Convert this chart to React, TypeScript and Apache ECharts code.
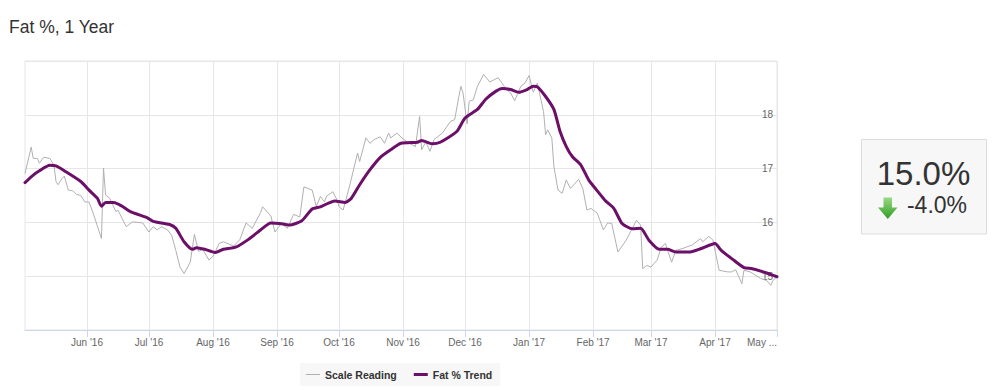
import React, { useEffect, useRef } from "react";
import * as echarts from "echarts";

// ---- data ----
const MONTHS = ["Jan", "Feb", "Mar", "Apr", "May", "Jun", "Jul", "Aug", "Sep", "Oct", "Nov", "Dec"];
const START_DATE = "2016-05-02";
const DAY_COUNT = 365;

const readingDays = [0, 3, 4, 6, 7, 9, 12, 14, 15, 16, 18, 19, 21, 23, 25, 27, 29, 31, 33, 37, 38, 39, 41, 44, 45, 49, 52, 57, 60, 62, 64, 66, 69, 71, 73, 75, 77, 80, 82, 84, 86, 89, 91, 94, 96, 101, 104, 107, 110, 114, 115, 119, 121, 124, 127, 130, 133, 135, 139, 141, 143, 145, 146, 149, 151, 152, 154, 157, 161, 162, 165, 167, 169, 172, 174, 176, 177, 180, 183, 186, 189, 191, 192, 194, 196, 198, 202, 206, 208, 210, 211, 212, 214, 215, 217, 219, 222, 225, 227, 229, 232, 233, 235, 237, 240, 242, 244, 246, 248, 249, 251, 252, 253, 255, 256, 258, 260, 262, 264, 268, 270, 272, 274, 277, 280, 282, 284, 287, 291, 296, 298, 299, 301, 303, 306, 308, 310, 311, 313, 315, 318, 320, 323, 327, 328, 331, 333, 336, 340, 342, 344, 347, 348, 351, 356, 359, 361, 362, 364];
const readingValues = [16.91, 17.4, 17.19, 17.19, 17.1, 17.21, 17.19, 17.07, 16.76, 16.7, 16.82, 16.86, 16.6, 16.59, 16.52, 16.5, 16.38, 16.38, 16.17, 15.7, 17.01, 16.51, 16.45, 16.2, 16.23, 15.92, 16.01, 15.99, 15.82, 15.92, 15.86, 15.92, 15.86, 15.76, 15.48, 15.17, 15.05, 15.26, 15.78, 15.46, 15.5, 15.3, 15.37, 15.61, 15.64, 15.56, 15.68, 15.99, 15.89, 16.18, 16.29, 16.12, 15.82, 15.98, 15.89, 16.15, 16.1, 16.66, 16.6, 16.3, 16.48, 16.38, 16.49, 16.57, 16.42, 16.29, 16.23, 16.66, 17.29, 17.13, 17.57, 17.47, 17.54, 17.59, 17.47, 17.66, 17.57, 17.66, 17.55, 17.47, 17.41, 17.97, 17.35, 17.5, 17.32, 17.54, 17.66, 17.88, 17.91, 18.34, 18.53, 18.41, 17.83, 18.25, 18.28, 18.53, 18.75, 18.61, 18.65, 18.69, 18.53, 18.47, 18.41, 18.26, 18.53, 18.59, 18.73, 18.42, 18.59, 18.41, 18.06, 17.63, 17.72, 17.57, 17.04, 16.6, 16.54, 16.79, 16.63, 16.8, 16.63, 16.23, 16.26, 16.17, 15.86, 15.99, 15.98, 15.45, 15.67, 16.04, 15.95, 15.14, 15.2, 15.17, 15.3, 15.54, 15.61, 15.48, 15.26, 15.48, 15.51, 15.54, 15.58, 15.7, 15.64, 15.74, 15.67, 15.11, 15.08, 15.08, 15.12, 14.86, 15.11, 15.08, 14.96, 14.92, 14.83, 14.92, 14.99];

const trendDays = [0, 4, 7, 12, 15, 19, 27, 31, 35, 37, 39, 43, 47, 51, 59, 62, 70, 73, 77, 81, 83, 87, 92, 96, 102, 108, 114, 119, 125, 128, 134, 139, 143, 150, 155, 158, 162, 167, 172, 177, 182, 190, 192, 197, 201, 209, 213, 219, 223, 228, 231, 235, 239, 243, 246, 248, 252, 256, 259, 262, 265, 269, 273, 278, 281, 285, 289, 294, 298, 302, 307, 311, 315, 322, 327, 334, 337, 343, 348, 352, 359, 364];
const trendValues = [16.74, 16.88, 16.96, 17.06, 17.05, 16.96, 16.76, 16.6, 16.45, 16.3, 16.37, 16.37, 16.3, 16.2, 16.09, 16.02, 15.96, 15.89, 15.64, 15.5, 15.53, 15.5, 15.44, 15.5, 15.54, 15.68, 15.86, 15.99, 15.97, 15.95, 16.03, 16.25, 16.29, 16.4, 16.37, 16.45, 16.7, 16.98, 17.21, 17.35, 17.47, 17.49, 17.52, 17.46, 17.49, 17.69, 17.94, 18.1, 18.29, 18.44, 18.49, 18.47, 18.42, 18.47, 18.53, 18.52, 18.34, 18.1, 17.69, 17.41, 17.22, 17.07, 16.78, 16.54, 16.4, 16.26, 15.98, 15.88, 15.89, 15.67, 15.5, 15.5, 15.45, 15.45, 15.51, 15.61, 15.48, 15.3, 15.16, 15.14, 15.06, 14.99];

const yTickLabels = [15, 16, 17, 18];
const currentValue = "15.0%";
const changeValue = "-4.0%";
const titleText = "Fat %, 1 Year";
const seriesNames = ["Scale Reading", "Fat % Trend"];

const FONT = "'Liberation Sans', Arial, Helvetica, sans-serif";

function pad(n: number) {
  return n < 10 ? "0" + n : "" + n;
}

const startMs = Date.parse(START_DATE + "T00:00:00Z");
const categories: string[] = Array.from({ length: DAY_COUNT }, (_, i) => {
  const d = new Date(startMs + i * 86400000);
  return `${d.getUTCFullYear()}-${pad(d.getUTCMonth() + 1)}-${pad(d.getUTCDate())}`;
});

const isMonthStart = (_idx: number, value: string) => typeof value === "string" && value.endsWith("-01");

export default function App() {
  const ref = useRef<HTMLDivElement>(null);

  useEffect(() => {
    if (!ref.current) return;
    const chart = echarts.init(ref.current, null, { renderer: "svg" });
    const lastIdx = categories.length - 1;

    chart.setOption({
      animation: false,
      backgroundColor: "#ffffff",
      textStyle: { fontFamily: FONT },
      grid: {
        left: 25,
        right: 222,
        top: 61,
        bottom: 60,
        show: true,
        borderColor: "#e6e6e6",
        borderWidth: 1,
        backgroundColor: "transparent",
      },
      legend: {
        left: 300,
        top: 363,
        orient: "horizontal",
        backgroundColor: "#f7f7f7",
        padding: [6, 8, 6, 6],
        itemGap: 17,
        itemWidth: 14,
        itemHeight: 3,
        textStyle: { color: "#333333", fontWeight: "bold", fontSize: 10.5, fontFamily: FONT },
        data: [
          { name: seriesNames[0], icon: "path://M0,0H14V1H0Z" },
          { name: seriesNames[1], icon: "rect" },
        ],
      },
      xAxis: {
        type: "category",
        data: categories,
        boundaryGap: false,
        axisLine: { show: true, lineStyle: { color: "#ccd6eb", width: 1 } },
        axisTick: {
          show: true,
          interval: isMonthStart,
          length: 7,
          lineStyle: { color: "#ccd6eb" },
        },
        splitLine: {
          show: true,
          interval: isMonthStart,
          lineStyle: { color: "#e6e6e6", width: 1 },
        },
        axisLabel: {
          interval: isMonthStart,
          showMaxLabel: true,
          alignMaxLabel: "right",
          margin: 7,
          color: "#666666",
          fontSize: 10,
          fontFamily: FONT,
          formatter: (value: string, index: number) => {
            const parts = value.split("-");
            const mon = MONTHS[parseInt(parts[1], 10) - 1];
            if (index === lastIdx) return `${mon} ...`;
            return `${mon} '${parts[0].slice(2)}`;
          },
        },
      },
      yAxis: {
        type: "value",
        position: "right",
        min: 14,
        max: 19,
        interval: 1,
        axisLine: { show: false },
        axisTick: { show: false },
        splitLine: { show: true, lineStyle: { color: "#e6e6e6", width: 1 } },
        axisLabel: {
          inside: true,
          margin: 4,
          color: "#666666",
          fontSize: 10,
          fontFamily: FONT,
          formatter: (v: number) => (yTickLabels.includes(v) ? String(v) : ""),
        },
      },
      series: [
        {
          name: seriesNames[0],
          type: "line",
          data: readingDays.map((d, i) => [d, readingValues[i]]),
          showSymbol: false,
          symbol: "none",
          color: "#b0b0b0",
          lineStyle: { color: "#b0b0b0", width: 1 },
          z: 2,
        },
        {
          name: seriesNames[1],
          type: "line",
          data: trendDays.map((d, i) => [d, trendValues[i]]),
          showSymbol: false,
          symbol: "none",
          smooth: 0.2,
          color: "#6b0f68",
          lineStyle: { color: "#6b0f68", width: 3, cap: "round", join: "round" },
          z: 3,
        },
      ],
      graphic: [
        {
          type: "text",
          left: 9,
          top: 18,
          style: { text: titleText, fontSize: 17.5, fill: "#333333", fontFamily: FONT },
        },
        {
          type: "rect",
          shape: { x: 861.5, y: 139.5, width: 125, height: 94.5 },
          style: { fill: "#f7f7f7", stroke: "#dddddd", lineWidth: 1 },
        },
        {
          type: "text",
          x: 923.5,
          y: 173.5,
          style: {
            text: currentValue,
            fontSize: 33,
            fill: "#333333",
            fontFamily: FONT,
            align: "center",
            verticalAlign: "middle",
          },
        },
        {
          type: "polygon",
          shape: {
            points: [
              [883.5, 197.5],
              [892, 197.5],
              [892, 207.5],
              [897.5, 207.5],
              [887.8, 219],
              [878, 207.5],
              [883.5, 207.5],
            ],
          },
          style: {
            fill: new echarts.graphic.LinearGradient(0, 0, 0, 1, [
              { offset: 0, color: "#9ad884" },
              { offset: 1, color: "#2f9e22" },
            ]),
          },
        },
        {
          type: "text",
          x: 937,
          y: 205.3,
          style: {
            text: changeValue,
            fontSize: 23,
            fill: "#333333",
            fontFamily: FONT,
            align: "center",
            verticalAlign: "middle",
          },
        },
      ],
    });

    return () => chart.dispose();
  }, []);

  return (
    <div
      ref={ref}
      style={{ position: "fixed", left: 0, top: 0, width: 999, height: 390, background: "#ffffff" }}
    />
  );
}
